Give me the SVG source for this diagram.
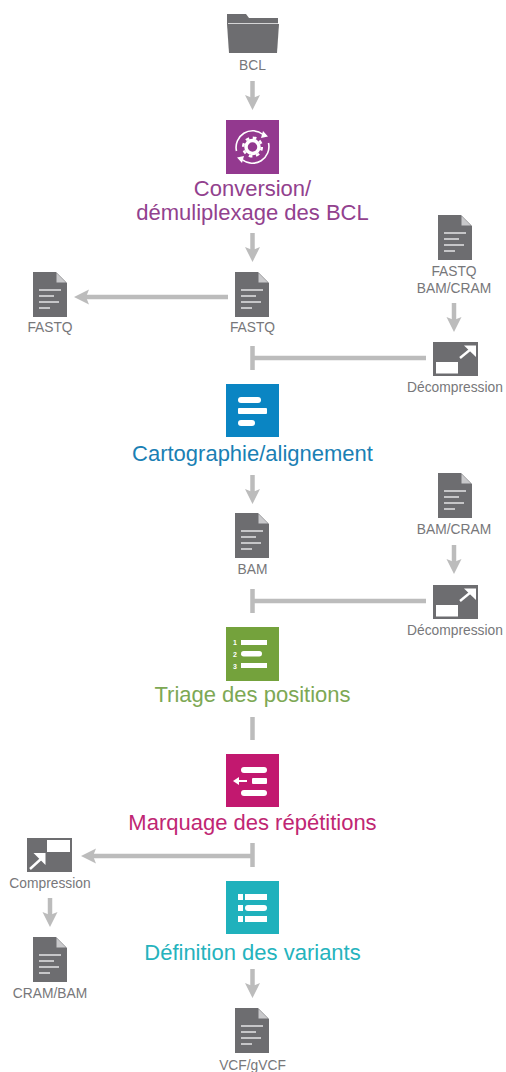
<svg xmlns="http://www.w3.org/2000/svg" width="506" height="1072" viewBox="0 0 506 1072">
<style>
text{font-family:"Liberation Sans",Arial,sans-serif;text-anchor:middle}
.l{font-size:13.8px;fill:#77777a}
.t{font-size:22px}
.n{font-size:7px;font-weight:bold;fill:#fff}
.c{fill:none;stroke:#bcbcbc;stroke-width:4.5}
.w{fill:#fff}
.wl{stroke:#fff;fill:none}
</style>
<defs>
<marker id="a" markerUnits="userSpaceOnUse" markerWidth="17" markerHeight="17" refX="4" refY="8" orient="auto"><path d="M0 0.500L15 8L0 15.500L3 8Z" fill="#bcbcbc"/></marker>
<g id="doc"><path d="M0 0H23L34 11V45H0Z" fill="#6d6d70"/><path d="M23.500 1V10.500H33Z" fill="#c9c9cb"/><path d="M6 18H28M6 24H21M6 30H26M6 36H17" stroke="#e4e4e5" stroke-width="1.600" fill="none"/></g>
<g id="dec"><rect width="45" height="34" fill="#6d6d70"/><rect x="3" y="20" width="22" height="11.500" fill="#fff"/><path d="M27 16L38 7" stroke="#fff" stroke-width="2.400"/><path d="M31 3.500H43V15Z" fill="#fff"/></g>
<g id="com"><rect width="45" height="34" fill="#6d6d70"/><rect x="20" y="2" width="23" height="12" fill="#fff"/><path d="M3 31L15 20" stroke="#fff" stroke-width="2.400"/><path d="M6.500 15H18.500V27Z" fill="#fff"/></g>
</defs>
<g id="connectors">
<path class="c" d="M252.500 81V99" marker-end="url(#a)"/>
<path class="c" d="M252.500 233V251" marker-end="url(#a)"/>
<path class="c" d="M228 297H85" marker-end="url(#a)"/>
<path class="c" d="M454 303V321" marker-end="url(#a)"/>
<path class="c" d="M252.500 346V370M252.500 358H426"/>
<path class="c" d="M252.500 475V493" marker-end="url(#a)"/>
<path class="c" d="M454 545V563" marker-end="url(#a)"/>
<path class="c" d="M252.500 589V613M252.500 601H426"/>
<path class="c" d="M252.500 717V740"/>
<path class="c" d="M252.500 843V867"/>
<path class="c" d="M252.500 856H92" marker-end="url(#a)"/>
<path class="c" d="M50 898V916" marker-end="url(#a)"/>
<path class="c" d="M252.500 969V987" marker-end="url(#a)"/>
</g>
<g id="bcl"><path d="M227 14H246L249 18H278V24H227Z" fill="#6d6d70"/><path d="M227 24H279L277 53H229Z" fill="#6d6d70"/><path d="M228 23.500H278" stroke="#d5d5d6" stroke-width="1"/><text class="l" x="252.500" y="70">BCL</text></g>
<g id="conversion"><rect x="226" y="120" width="53" height="54" fill="#93398f"/>
<circle cx="252.500" cy="147" r="6.500" fill="none" stroke="#fff" stroke-width="3.500"/>
<circle cx="252.500" cy="147" r="9.300" fill="none" stroke="#fff" stroke-width="2.500" stroke-dasharray="3.650 3.650"/>
<path d="M236.500 151A16.500 16.500 0 0 1 263 134.500M268.500 143A16.500 16.500 0 0 1 242 159.500" class="wl" stroke-width="1.600"/>
<path d="M263 131L268 136.500L261 138ZM242 163L237 157.500L244 156Z" class="w"/>
<text class="t" x="252.500" y="196" fill="#92418e">Conversion/</text><text class="t" x="252.500" y="220" fill="#92418e">démuliplexage des BCL</text></g>
<g id="fastq1"><use href="#doc" x="235" y="272"/><text class="l" x="252.500" y="332">FASTQ</text></g>
<g id="fastq2"><use href="#doc" x="33" y="272"/><text class="l" x="50" y="332">FASTQ</text></g>
<g id="input1"><use href="#doc" x="438" y="215"/><text class="l" x="454" y="276">FASTQ</text><text class="l" x="454" y="293">BAM/CRAM</text></g>
<g id="dec1"><use href="#dec" x="433" y="342"/><text class="l" x="455" y="392">Décompression</text></g>
<g id="carto"><rect x="226" y="384" width="53" height="53" fill="#0a85c3"/>
<rect x="238" y="397" width="23" height="6" rx="3" class="w"/><rect x="238" y="408" width="29" height="6" rx="1" class="w"/><rect x="238" y="420" width="17" height="6" rx="3" class="w"/>
<text class="t" x="252.500" y="461" fill="#1a80b4">Cartographie/alignement</text></g>
<g id="bam"><use href="#doc" x="235" y="513"/><text class="l" x="252.500" y="574">BAM</text></g>
<g id="input2"><use href="#doc" x="438" y="473"/><text class="l" x="454" y="534">BAM/CRAM</text></g>
<g id="dec2"><use href="#dec" x="433" y="585"/><text class="l" x="455" y="635">Décompression</text></g>
<g id="triage"><rect x="226" y="627" width="53" height="54" fill="#74a23c"/>
<rect x="241" y="640" width="26" height="5" class="w"/><rect x="241" y="651" width="21" height="5.500" rx="2.700" class="w"/><rect x="241" y="663" width="26" height="5" class="w"/>
<text class="n" x="235" y="645">1</text><text class="n" x="235" y="657">2</text><text class="n" x="235" y="668.500">3</text>
<text class="t" x="252.500" y="702" fill="#7da854">Triage des positions</text></g>
<g id="marquage"><rect x="226" y="754" width="53" height="53" fill="#c2186f"/>
<rect x="241" y="767" width="26" height="6" rx="3" class="w"/><rect x="252" y="778" width="15" height="6" rx="1" class="w"/><rect x="241" y="790" width="26" height="6" rx="3" class="w"/>
<path d="M247 781H237" stroke="#fff" stroke-width="2"/><path d="M233 781L239 777V785Z" class="w"/>
<text class="t" x="252.500" y="830" fill="#c02673">Marquage des répétitions</text></g>
<g id="compression"><use href="#com" x="27" y="838"/><text class="l" x="50" y="888">Compression</text></g>
<g id="crambam"><use href="#doc" x="33" y="937"/><text class="l" x="50" y="998">CRAM/BAM</text></g>
<g id="variants"><rect x="226" y="881" width="53" height="53" fill="#1fb1bc"/>
<rect x="238" y="894" width="5" height="6" class="w"/><rect x="245" y="894" width="22" height="6" class="w"/><rect x="238" y="905" width="5" height="6" class="w"/><rect x="245" y="905" width="22" height="6" rx="3" class="w"/><rect x="238" y="916" width="5" height="6" class="w"/><rect x="245" y="916" width="22" height="6" class="w"/>
<text class="t" x="252.500" y="960" fill="#25b3bd">Définition des variants</text></g>
<g id="vcf"><use href="#doc" x="235" y="1008"/><text class="l" x="252.500" y="1070">VCF/gVCF</text></g>
</svg>
